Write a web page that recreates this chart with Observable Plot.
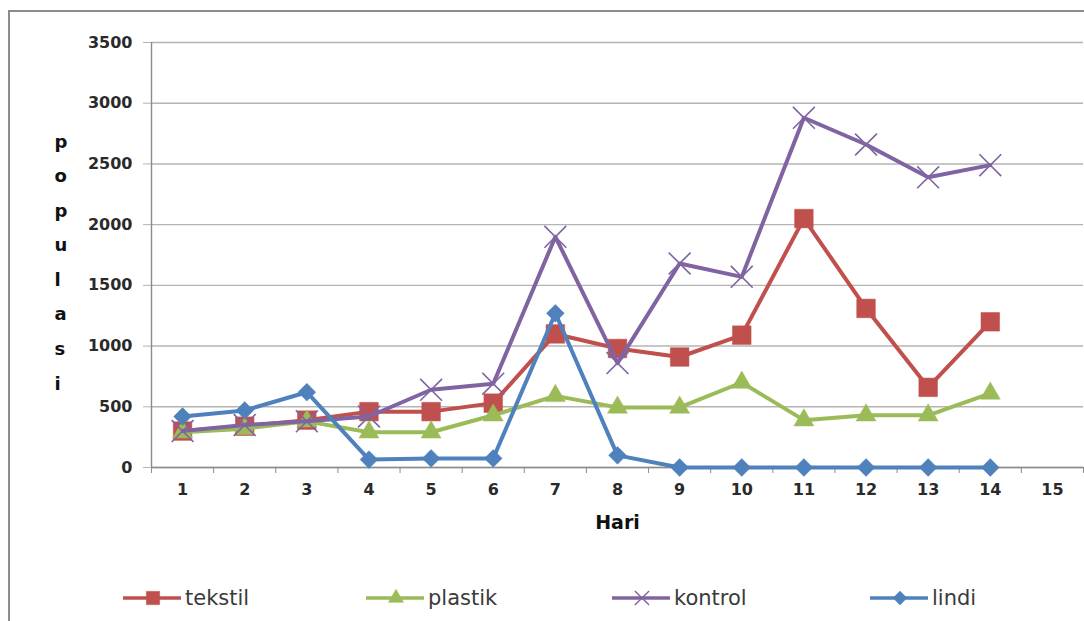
<!DOCTYPE html>
<html>
<head>
<meta charset="utf-8">
<script src="https://cdn.jsdelivr.net/npm/d3@7"></script>
<script src="https://cdn.jsdelivr.net/npm/@observablehq/plot@0.6"></script>
<style>
  html, body { margin: 0; padding: 0; background: #fff; }
  body { width: 1084px; height: 621px; overflow: hidden; position: relative; font-family: "DejaVu Sans", sans-serif; }
  #frame { position: absolute; left: 8px; top: 10px; width: 1200px; height: 800px; border: 2px solid #8c8c8c; box-sizing: border-box; }
  #chart { position: absolute; left: 0; top: 0; }
  #legend { position: absolute; left: 0; top: 583px; width: 1084px; height: 30px; }
  .item { position: absolute; top: 0; display: flex; align-items: center; height: 30px; }
  .item span { font-family: "DejaVu Sans", sans-serif; font-size: 21px; color: #3a3a3a; margin-left: 4px; }
</style>
</head>
<body>
<div id="frame"></div>
<div id="chart"></div>
<div id="legend"></div>
<script>
// Population counts per day for each treatment
const hari = [1, 2, 3, 4, 5, 6, 7, 8, 9, 10, 11, 12, 13, 14];
const xTicks = [1, 2, 3, 4, 5, 6, 7, 8, 9, 10, 11, 12, 13, 14, 15];
const yTicks = [0, 500, 1000, 1500, 2000, 2500, 3000, 3500];
const tekstil = [300, 340, 390, 460, 460, 530, 1100, 980, 910, 1090, 2050, 1310, 660, 1200];
const plastik = [290, 320, 380, 290, 290, 430, 590, 495, 495, 700, 390, 430, 430, 610];
const kontrol = [300, 350, 380, 420, 640, 690, 1900, 860, 1680, 1570, 2880, 2660, 2390, 2490];
const lindi = [420, 470, 620, 65, 75, 75, 1270, 100, 0, 0, 0, 0, 0, 0];
const seriesNames = ["tekstil", "plastik", "kontrol", "lindi"];

const styles = {
  tekstil: {color: "#C0504D", symbol: "square", r: 10.5, lr: 7.5, fill: true},
  plastik: {color: "#9BBB59", symbol: "triangle", r: 7.4, lr: 5.6, fill: true},
  kontrol: {color: "#8064A2", symbol: "times", r: 10, lr: 6.5, fill: false},
  lindi:   {color: "#4F81BD", symbol: "diamond2", r: 8, lr: 6.2, fill: true}
};
const valuesBy = {tekstil, plastik, kontrol, lindi};

const seriesMarks = seriesNames.flatMap(name => {
  const s = styles[name];
  const rows = hari.map((d, i) => ({hari: d, value: valuesBy[name][i]}));
  return [
    Plot.line(rows, {x: "hari", y: "value", stroke: s.color, strokeWidth: 4}),
    Plot.dot(rows, {
      x: "hari", y: "value", symbol: () => s.symbol, r: s.r,
      fill: s.fill ? s.color : "none", stroke: s.color, strokeWidth: s.fill ? 0.5 : 1.6
    })
  ];
});

const chart = Plot.plot({
  width: 1084,
  height: 560,
  marginTop: 42,
  marginLeft: 151,
  marginRight: 1,
  marginBottom: 93,
  style: {fontFamily: "DejaVu Sans, sans-serif", background: "transparent", overflow: "visible"},
  x: {domain: [0.5, 15.5], axis: null},
  y: {domain: [0, 3500], axis: null},
  symbol: {type: "identity"},
  marks: [
    Plot.gridY(yTicks, {stroke: "#b4b4b4", strokeOpacity: 1, strokeWidth: 1.4}),
    Plot.axisY({ticks: yTicks, tickFormat: d3.format("d"), tickSize: 8, tickPadding: 11, stroke: "#b4b4b4", fontSize: 16, fontWeight: "bold", fill: "#2a2a2a", label: null}),
    Plot.ruleX([0.5], {stroke: "#8c8c8c", strokeWidth: 1.4}),
    Plot.ruleY([0], {stroke: "#8c8c8c", strokeWidth: 1.4}),
    Plot.axisX({ticks: d3.range(0.5, 15.6, 1), tickFormat: () => "", tickSize: 6, stroke: "#8c8c8c", label: null}),
    Plot.axisX({ticks: xTicks, tickSize: 0, tickPadding: 16, fontSize: 16, fontWeight: "bold", fill: "#2a2a2a", label: null}),
    Plot.text(["Hari"], {frameAnchor: "bottom", dy: 61, fontSize: 19, fontWeight: "bold", fill: "#111"}),
    Plot.text(["p\no\np\nu\nl\na\ns\ni"], {frameAnchor: "left", dx: -97, dy: 2.5, lineHeight: 1.92, fontSize: 18, fontWeight: "bold", fill: "#111"}),
    ...seriesMarks
  ]
});
document.getElementById("chart").append(chart);

// Legend below the plot: line sample with the series marker, then its name
const legendX = {tekstil: 123, plastik: 366, kontrol: 612, lindi: 870};
const legend = d3.select("#legend");
const symbolTypes = {square: d3.symbolSquare, triangle: d3.symbolTriangle, times: d3.symbolTimes, diamond2: d3.symbolDiamond2};
seriesNames.forEach(name => {
  const s = styles[name];
  const item = legend.append("div").attr("class", "item").style("left", legendX[name] + "px");
  const svg = item.append("svg").attr("width", 58).attr("height", 30);
  svg.append("line").attr("x1", 0).attr("x2", 58).attr("y1", 15).attr("y2", 15)
    .attr("stroke", s.color).attr("stroke-width", 3.5);
  svg.append("path")
    .attr("transform", "translate(30,15)")
    .attr("d", d3.symbol(symbolTypes[s.symbol], s.lr * s.lr * Math.PI)())
    .attr("fill", s.fill ? s.color : "none")
    .attr("stroke", s.color)
    .attr("stroke-width", s.fill ? 0.5 : 1.4);
  item.append("span").text(name);
});
</script>
</body>
</html>
